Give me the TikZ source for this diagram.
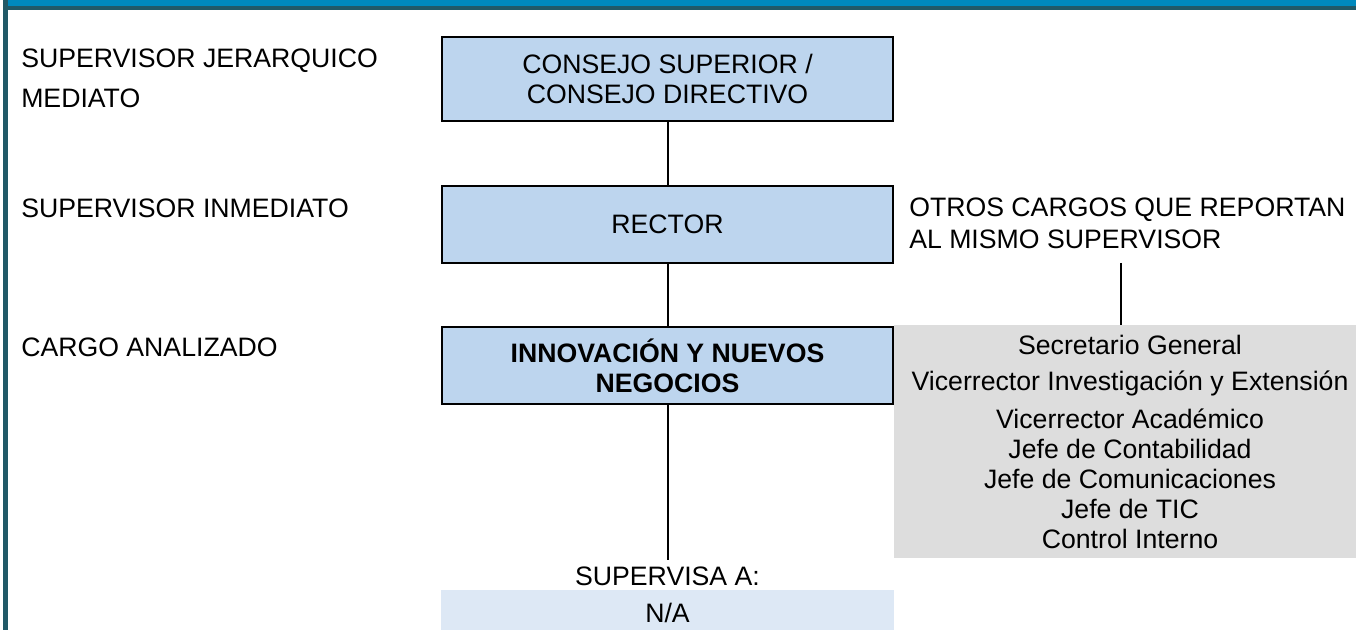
\documentclass[tikz,border=0pt]{standalone}
\usepackage{fontspec}
\setmainfont{Liberation Sans}
\usetikzlibrary{positioning}
\definecolor{barblue}{HTML}{0089BD}
\definecolor{bardark}{HTML}{215967}
\definecolor{boxblue}{HTML}{BDD5EE}
\definecolor{boxpale}{HTML}{DDE8F5}
\definecolor{boxgray}{HTML}{DDDDDD}

\begin{document}
\begin{tikzpicture}[x=0.75pt, y=-0.75pt,
    lbl/.style={anchor=base west, inner sep=0pt, align=left,
        font=\fontsize{20}{30}\selectfont},
    posbox/.style={draw=black, line width=1.5pt, fill=boxblue,
        minimum width=338.25pt, inner sep=0pt, align=center,
        font=\fontsize{20}{22.5}\selectfont},
    palebox/.style={fill=boxpale, minimum width=339.75pt,
        minimum height=34.5pt, inner sep=0pt,
        font=\fontsize{20}{22.5}\selectfont},
    graybox/.style={fill=boxgray, minimum width=354pt,
        minimum height=174.75pt, inner sep=0pt, align=center,
        font=\fontsize{20}{22.5}\selectfont},
    link/.style={line width=1.5pt}]
\useasboundingbox (0,0) rectangle (1356,630);
% Header bar and left border
\fill[barblue] (8,0) rectangle (1356,6);
\fill[bardark] (3,6) rectangle (1356,10);
\fill[bardark] (3,0) rectangle (8,630);
% Level labels
\node[lbl] (mediato) at (21,108) {SUPERVISOR JERARQUICO\\MEDIATO};
\node[lbl] (inmediato) at (21,218) {SUPERVISOR INMEDIATO};
\node[lbl] (analizado) at (21,357) {CARGO ANALIZADO};
% Hierarchy boxes
\node[posbox, minimum height=63pt] (consejo) at (667.5,79)
    {CONSEJO SUPERIOR /\\CONSEJO DIRECTIVO};
\node[posbox, minimum height=57.75pt] (rector) at (667.5,224.5) {RECTOR};
\node[posbox, minimum height=57.75pt] (cargo) at (667.5,365.5)
    {\bfseries INNOVACIÓN Y NUEVOS\\\bfseries NEGOCIOS};
\node[anchor=base, inner sep=4.5pt, font=\fontsize{20}{22.5}\selectfont]
    (supervisa) at (667.5,585) {SUPERVISA A:};
\node[palebox] (na) at (667.5,613) {N/A};
% Other positions under the same supervisor
\node[lbl, font=\fontsize{20}{24}\selectfont] (otroslbl) at (909,249)
    {OTROS CARGOS QUE REPORTAN\\AL MISMO SUPERVISOR};
\node[graybox] (otros) at (1130,441.5)
    {\rule{0pt}{6pt}Secretario General\\[4.5pt]
     Vicerrector Investigación y Extensión\\[6pt]
     Vicerrector Académico\\
     Jefe de Contabilidad\\
     Jefe de Comunicaciones\\
     Jefe de TIC\\
     Control Interno};
\coordinate (otrosfoot) at (1121,263);
% Connectors
\draw[link] (consejo) -- (rector);
\draw[link] (rector) -- (cargo);
\draw[link] (cargo) -- (supervisa);
\draw[link] (otrosfoot) -- (otrosfoot |- otros.north);
\end{tikzpicture}
\end{document}
